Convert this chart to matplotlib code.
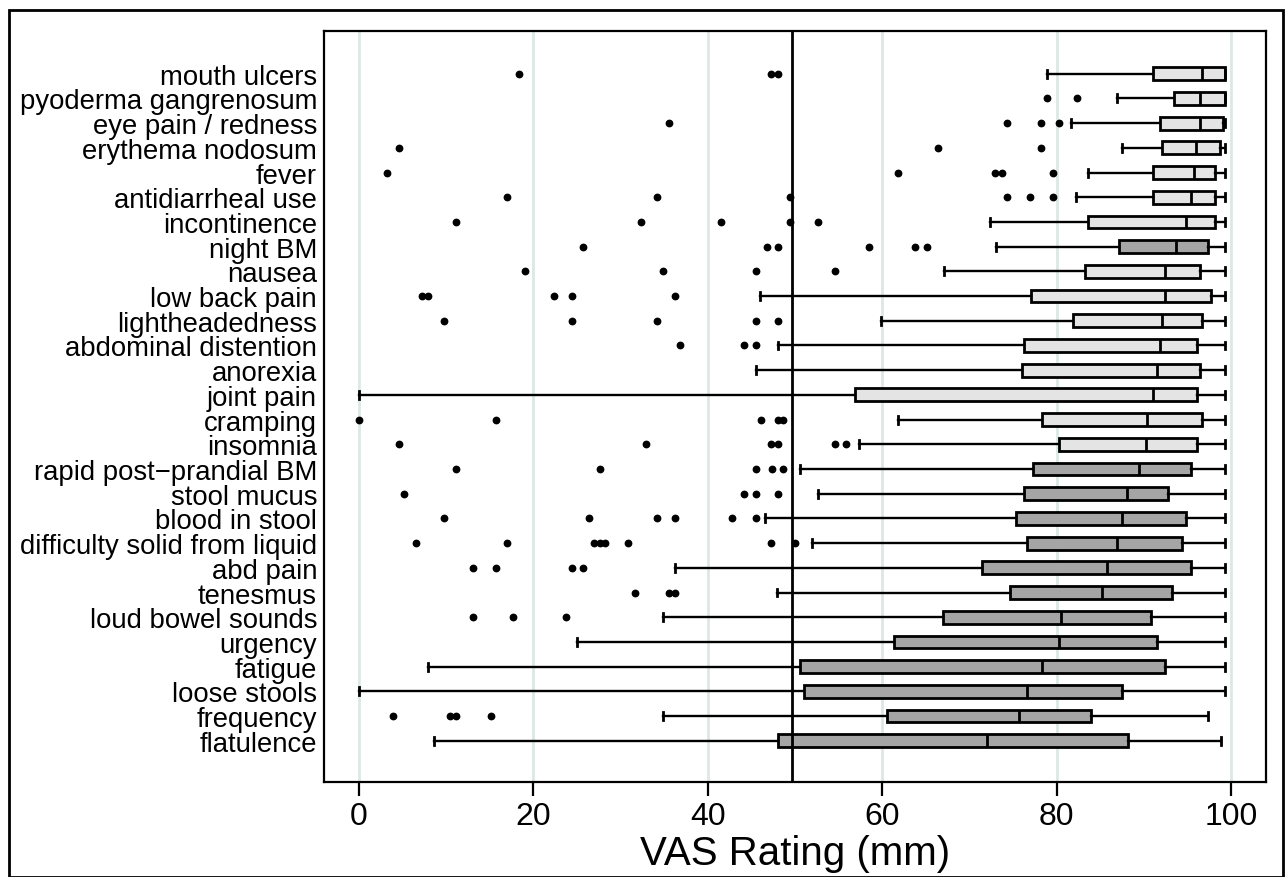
import matplotlib
matplotlib.use("Agg")
import matplotlib.pyplot as plt
from matplotlib.patches import Rectangle

plt.rcParams['font.family'] = ['Liberation Sans', 'DejaVu Sans']

labels = ["mouth ulcers", "pyoderma gangrenosum", "eye pain / redness", "erythema nodosum",
          "fever", "antidiarrheal use", "incontinence", "night BM", "nausea", "low back pain",
          "lightheadedness", "abdominal distention", "anorexia", "joint pain", "cramping",
          "insomnia", "rapid post\u2212prandial BM", "stool mucus", "blood in stool",
          "difficulty solid from liquid", "abd pain", "tenesmus", "loud bowel sounds",
          "urgency", "fatigue", "loose stools", "frequency", "flatulence"]

whislo = [78.9, 86.9, 81.6, 87.5, 83.6, 82.2, 72.3, 73.0, 67.1, 46.0, 59.9, 48.0, 45.5, 0.0,
          61.8, 57.3, 50.6, 52.6, 46.6, 51.9, 36.2, 47.9, 34.9, 25.0, 7.9, 0.0, 34.9, 8.65]
q1 = [91.1, 93.4, 91.8, 92.1, 91.1, 91.1, 83.6, 87.2, 83.2, 77.0, 81.9, 76.3, 76.0, 56.9,
      78.3, 80.3, 77.3, 76.3, 75.3, 76.6, 71.4, 74.6, 67.0, 61.4, 50.6, 51.0, 60.5, 48.0]
med = [96.7, 96.4, 96.4, 96.0, 95.8, 95.4, 94.8, 93.7, 92.4, 92.4, 92.1, 91.8, 91.5, 91.1,
       90.4, 90.2, 89.4, 88.1, 87.5, 86.9, 85.8, 85.2, 80.5, 80.3, 78.3, 76.6, 75.7, 72.0]
q3 = [99.3, 99.3, 99.1, 98.7, 98.1, 98.1, 98.1, 97.4, 96.4, 97.7, 96.7, 96.1, 96.4, 96.1,
      96.7, 96.1, 95.4, 92.8, 94.8, 94.4, 95.4, 93.2, 90.8, 91.5, 92.4, 87.5, 83.9, 88.2]
whishi = [99.3, 99.3, 99.3, 99.3, 99.3, 99.3, 99.3, 99.3, 99.3, 99.3, 99.3, 99.3, 99.3, 99.3,
          99.3, 99.3, 99.3, 99.3, 99.3, 99.3, 99.3, 99.3, 99.3, 99.3, 99.3, 99.3, 97.4, 98.8]
outliers = [
    [18.3, 47.3, 48.0],
    [78.9, 82.3],
    [35.5, 74.3, 78.2, 80.3],
    [4.6, 66.4, 78.2],
    [3.2, 61.8, 72.9, 73.7, 79.6],
    [17.0, 34.2, 49.4, 74.3, 76.9, 79.6],
    [11.1, 32.3, 41.5, 49.4, 52.6],
    [25.7, 46.8, 48.0, 58.5, 63.8, 65.1],
    [19.1, 34.9, 45.5, 54.6],
    [7.2, 7.9, 22.4, 24.4, 36.2],
    [9.8, 24.4, 34.2, 45.5, 48.0],
    [36.8, 44.1, 45.5],
    [],
    [],
    [0.0, 15.7, 46.1, 48.0, 48.6],
    [4.6, 32.9, 47.3, 48.0, 54.6, 55.9],
    [11.1, 27.7, 45.5, 47.4, 48.6],
    [5.2, 44.1, 45.5, 48.0],
    [9.8, 26.4, 34.2, 36.2, 42.8, 45.5],
    [6.5, 17.0, 26.9, 27.6, 28.2, 30.9, 47.3, 50.0],
    [13.1, 15.7, 24.4, 25.7],
    [31.6, 35.5, 36.2],
    [13.1, 17.7, 23.7],
    [],
    [],
    [],
    [3.9, 10.4, 11.1, 15.1],
    [],
]
dark = [False, False, False, False, False, False, False, True, False, False, False, False,
        False, False, False, False, True, True, True, True, True, True, True, True, True,
        True, True, True]
ref_line = 49.7
xticks = [0, 20, 40, 60, 80, 100]
xlabel = "VAS Rating (mm)"

W, H = 1285, 878
fig = plt.figure(figsize=(W / 100, H / 100), dpi=100)
ax = fig.add_axes([324 / W, 1 - 783 / H, (1266 - 324) / W, (783 - 32) / H])

n = len(labels)
positions = [n - i for i in range(n)]
stats = []
for i in range(n):
    stats.append(dict(med=med[i], q1=q1[i], q3=q3[i], whislo=whislo[i], whishi=whishi[i],
                      fliers=outliers[i], label=labels[i]))

kw = dict(positions=positions, widths=0.52, capwidths=0.32, patch_artist=True, showfliers=True,
          boxprops=dict(linewidth=2.0, edgecolor='black'),
          whiskerprops=dict(linewidth=1.7, color='black'),
          capprops=dict(linewidth=2.0, color='black'),
          medianprops=dict(linewidth=2.0, color='black'),
          flierprops=dict(marker='o', markerfacecolor='black', markeredgecolor='black',
                          markersize=4.6, linestyle='none'),
          zorder=3)
try:
    res = ax.bxp(stats, orientation='horizontal', **kw)
except TypeError:
    res = ax.bxp(stats, vert=False, **kw)

for b, d in zip(res['boxes'], dark):
    b.set_facecolor('#a5a5a5' if d else '#e4e4e4')

ax.axvline(ref_line, color='black', linewidth=2.0, zorder=5)

ax.set_xlim(-4.0, 104.0)
ax.set_ylim(-0.67, n + 1.73)
ax.set_xticks(xticks)
ax.set_xticklabels([str(t) for t in xticks])
ax.set_yticks(positions)
ax.set_yticklabels(labels)
ax.tick_params(axis='y', length=0, pad=5, labelsize=19.8)
ax.tick_params(axis='x', length=10, width=1.6, pad=4, labelsize=23)
ax.xaxis.grid(True, color='#dde8e6', linewidth=2.0, zorder=0)
ax.set_axisbelow(True)
for s in ax.spines.values():
    s.set_linewidth(1.6)
ax.set_xlabel(xlabel, fontsize=29, labelpad=2)

fig.patches.append(Rectangle((9 / W, 0.5 / H), (1283 - 9) / W, (H - 11.5) / H,
                             transform=fig.transFigure, fill=False, edgecolor='black',
                             linewidth=2.0))

fig.savefig("out.png", dpi=100)
